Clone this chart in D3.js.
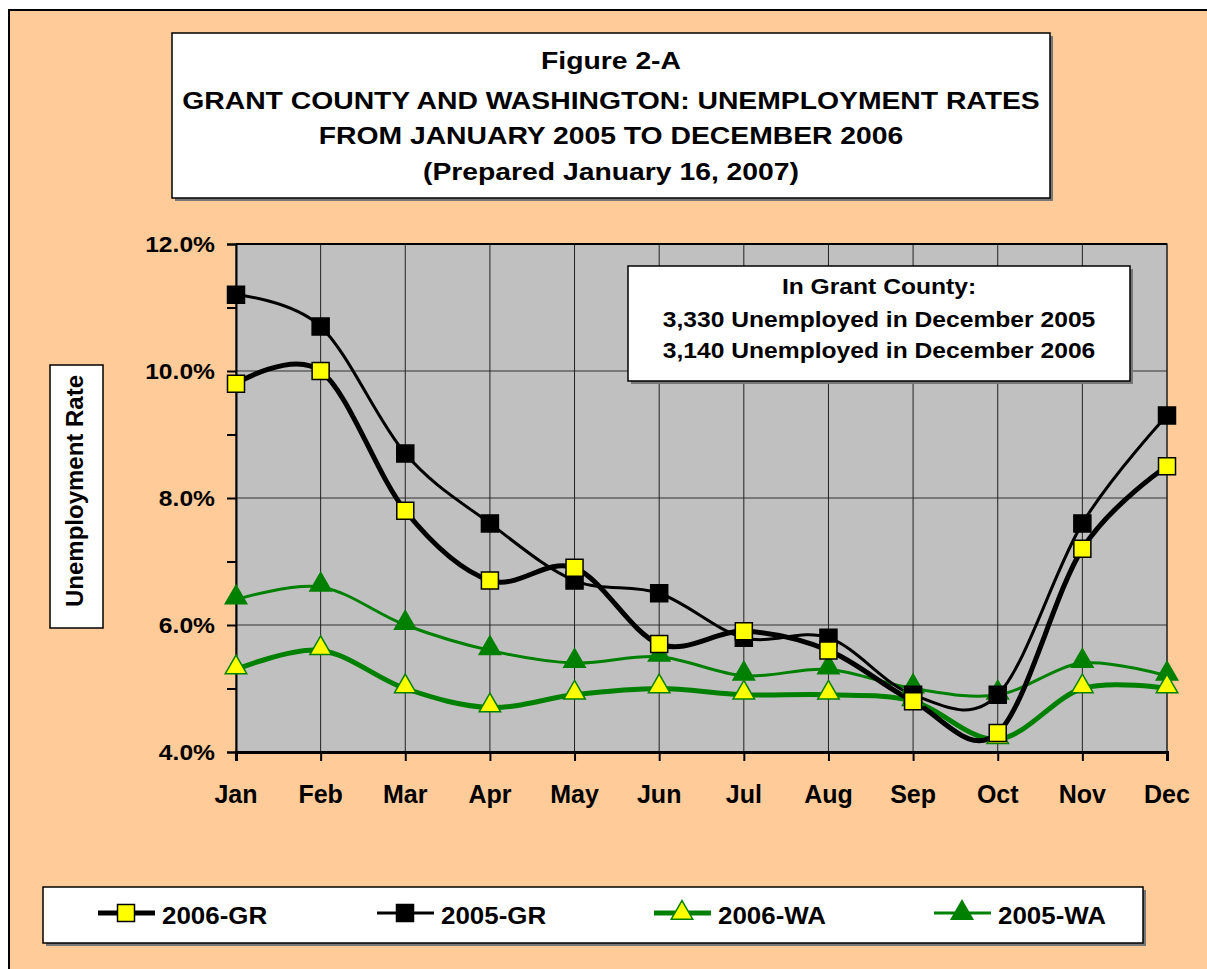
<!DOCTYPE html>
<html>
<head>
<meta charset="utf-8">
<script src="https://cdn.jsdelivr.net/npm/d3@7"></script>
<style>
  body { margin: 0; background: #fff; overflow: hidden; }
  text { font-family: "Liberation Sans", Arial, sans-serif; font-weight: bold; }
</style>
</head>
<body>
<div id="chart-area"></div>
<script>
// Grant County vs Washington unemployment, monthly 2005 / 2006

var months = ["Jan","Feb","Mar","Apr","May","Jun","Jul","Aug","Sep","Oct","Nov","Dec"];
var gr2006 = [9.8, 10.0, 7.8, 6.7, 6.9, 5.7, 5.9, 5.6, 4.8, 4.3, 7.2, 8.5];
var gr2005 = [11.2, 10.7, 8.7, 7.6, 6.7, 6.5, 5.8, 5.8, 4.9, 4.9, 7.6, 9.3];
var wa2006 = [5.3, 5.6, 5.0, 4.7, 4.9, 5.0, 4.9, 4.9, 4.8, 4.2, 5.0, 5.0];
var wa2005 = [6.4, 6.6, 6.0, 5.6, 5.4, 5.5, 5.2, 5.3, 5.0, 4.9, 5.4, 5.2];
var yTicks = [4, 6, 8, 10, 12];
var titleLines = ["Figure 2-A",
    "GRANT COUNTY AND WASHINGTON: UNEMPLOYMENT RATES",
    "FROM JANUARY 2005 TO DECEMBER 2006",
    "(Prepared January 16, 2007)"];
var noteLines = ["In Grant County:",
    "3,330 Unemployed in December 2005",
    "3,140 Unemployed in December 2006"];

var series = [
    { name: "2006-GR", values: gr2006, line: "#000", width: 5, shape: "square", fill: "#FFFF00", edge: "#000" },
    { name: "2005-GR", values: gr2005, line: "#000", width: 3, shape: "square", fill: "#000", edge: "#000" },
    { name: "2006-WA", values: wa2006, line: "#008000", width: 5, shape: "triangle", fill: "#FFFF00", edge: "#008000" },
    { name: "2005-WA", values: wa2005, line: "#008000", width: 3, shape: "triangle", fill: "#008000", edge: "#008000" }
];
// WA lines go under the GR lines
var drawOrder = [series[3], series[2], series[1], series[0]];

var W = 1207, H = 969;
var plot = { left: 236, right: 1167, top: 244, bottom: 752 };

var svg = d3.select("#chart-area")
    .append("svg")
    .attr("width", W)
    .attr("height", H);

// outer frame (right and bottom edges fall outside the picture)
svg.append("rect")
    .attr("x", 9).attr("y", 10)
    .attr("width", 3000).attr("height", 3000)
    .attr("fill", "#FFCC99")
    .attr("stroke", "#000").attr("stroke-width", 2);

function box(x, y, w, h) {
    svg.append("rect")
        .attr("x", x + 3).attr("y", y + 3).attr("width", w).attr("height", h)
        .attr("fill", "#777");
    svg.append("rect")
        .attr("x", x).attr("y", y).attr("width", w).attr("height", h)
        .attr("fill", "#fff").attr("stroke", "#000").attr("stroke-width", 1.5);
}

// text a bit wider than the font, like the original export
function wideText(sel, x, y, size, sx, anchor) {
    return sel.append("text")
        .attr("transform", "translate(" + x + "," + y + ") scale(" + sx + ",1)")
        .attr("text-anchor", anchor || "middle")
        .attr("font-size", size + "px");
}

// title
box(172, 33, 878, 165);
var titleY = [69, 109, 144, 180];
titleLines.forEach(function(t, i) {
    wideText(svg, 611, titleY[i], 24, 1.18).text(t);
});

// Scales
var x = d3.scalePoint().domain(months).range([plot.left, plot.right]);
var y = d3.scaleLinear().domain([4, 12]).range([plot.bottom, plot.top]);

var g = svg.append("g");

g.append("rect")
    .attr("x", plot.left).attr("y", plot.top)
    .attr("width", plot.right - plot.left).attr("height", plot.bottom - plot.top)
    .attr("fill", "#C0C0C0")
    .attr("stroke", "#555").attr("stroke-width", 1.5);

// gridlines
g.selectAll(".hgrid").data(yTicks).enter()
    .append("line")
    .attr("x1", plot.left).attr("x2", plot.right)
    .attr("y1", function(d) { return y(d); }).attr("y2", function(d) { return y(d); })
    .attr("stroke", "#333").attr("stroke-width", 1.2);
g.selectAll(".vgrid").data(months.slice(1)).enter()
    .append("line")
    .attr("x1", function(d) { return x(d); }).attr("x2", function(d) { return x(d); })
    .attr("y1", plot.top).attr("y2", plot.bottom)
    .attr("stroke", "#222").attr("stroke-width", 1);

g.append("line")
    .attr("x1", plot.left).attr("x2", plot.right)
    .attr("y1", plot.top).attr("y2", plot.top)
    .attr("stroke", "#000").attr("stroke-width", 2);

// Y axis
var yAxisCall = d3.axisLeft(y)
    .tickValues(d3.range(4, 12.01, 1))
    .tickSize(9)
    .tickFormat("");
var yAxis = g.append("g")
    .attr("transform", "translate(" + plot.left + ",0)")
    .call(yAxisCall);
yAxis.select(".domain").attr("stroke", "#000").attr("stroke-width", 2);
yAxis.selectAll(".tick line").attr("stroke", "#000").attr("stroke-width", 2);
yTicks.forEach(function(v) {
    wideText(svg, 215, y(v) + 8, 22, 1.12, "end").text(v.toFixed(1) + "%");
});

// X axis
var xAxisCall = d3.axisBottom(x).tickSize(9).tickFormat("");
var xAxis = g.append("g")
    .attr("transform", "translate(0," + plot.bottom + ")")
    .call(xAxisCall);
xAxis.select(".domain").attr("stroke", "#000").attr("stroke-width", 3);
xAxis.selectAll(".tick line").attr("stroke", "#000").attr("stroke-width", 2);
months.forEach(function(m) {
    wideText(svg, x(m), 803, 25, 1.0).text(m);
});

// Lines, Excel style smoothing
var line = d3.line()
    .curve(d3.curveCardinal.tension(0))
    .x(function(d, i) { return x(months[i]); })
    .y(function(d) { return y(d); });

var sq = d3.symbol().type(d3.symbolSquare).size(289);
var tri = d3.symbol().type(d3.symbolTriangle).size(200);

drawOrder.forEach(function(s) {
    g.append("path")
        .attr("d", line(s.values))
        .attr("fill", "none")
        .attr("stroke", s.line)
        .attr("stroke-width", s.width)
        .attr("stroke-linejoin", "round");
});
drawOrder.forEach(function(s) {
    g.selectAll(null).data(s.values).enter()
        .append("path")
        .attr("d", s.shape === "square" ? sq : tri)
        .attr("transform", function(d, i) {
            return "translate(" + x(months[i]) + "," + (y(d) + (s.shape === "triangle" ? -2 : 0)) + ")";
        })
        .attr("fill", s.fill)
        .attr("stroke", s.edge)
        .attr("stroke-width", 1.5);
});

// note box
box(628, 266, 502, 115);
var noteY = [294, 327, 358];
noteLines.forEach(function(t, i) {
    wideText(svg, 879, noteY[i], 22, 1.12).text(t);
});

// y axis title
svg.append("rect")
    .attr("x", 50).attr("y", 365).attr("width", 53).attr("height", 263)
    .attr("fill", "#fff").attr("stroke", "#000").attr("stroke-width", 1.5);
svg.append("text")
    .attr("transform", "translate(83,491) rotate(-90)")
    .attr("text-anchor", "middle")
    .attr("font-size", "24px")
    .text("Unemployment Rate");

// legend
box(43, 887, 1100, 56);
var legendX = [126, 405, 682, 962];
var lg = svg.selectAll(".legend").data(series).enter()
    .append("g")
    .attr("transform", function(d, i) { return "translate(" + legendX[i] + ",913)"; });
lg.append("line")
    .attr("x1", -28).attr("x2", 29)
    .attr("stroke", function(d) { return d.line; })
    .attr("stroke-width", function(d) { return d.width; });
lg.append("path")
    .attr("d", function(d) { return d.shape === "square" ? sq() : tri(); })
    .attr("fill", function(d) { return d.fill; })
    .attr("stroke", function(d) { return d.edge; })
    .attr("stroke-width", 1.5);
lg.append("text")
    .attr("transform", "translate(36,11) scale(1.08,1)")
    .attr("font-size", "24px")
    .text(function(d) { return d.name; });
</script>
</body>
</html>
